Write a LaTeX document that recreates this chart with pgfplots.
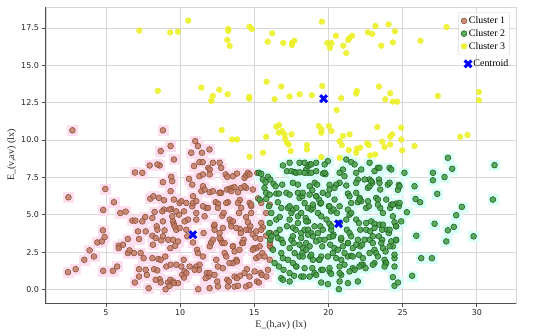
\documentclass[border=0pt]{standalone}
\usepackage{fontspec}
\setmainfont{Liberation Serif}
\newfontfamily\dejavu{DejaVu Sans}
\usepackage{pgfplots}
\usepackage{pgfplotstable}
\pgfplotsset{compat=1.18}

\definecolor{c1fill}{RGB}{192,118,92}
\definecolor{c1edge}{RGB}{140,85,62}
\definecolor{c2fill}{RGB}{70,155,70}
\definecolor{c2edge}{RGB}{35,100,35}
\definecolor{c3fill}{RGB}{236,240,40}
\definecolor{pinkbg}{RGB}{255,222,240}
\definecolor{cyanbg}{RGB}{218,255,248}
\definecolor{gridc}{RGB}{215,215,215}
\definecolor{spine}{RGB}{80,80,80}

\pgfplotstableread{
x y
2.74 10.65
2.47 6.17
2.44 1.16
2.96 1.36
3.54 1.99
3.90 2.62
4.19 2.21
4.42 3.15
4.73 3.22
4.80 3.96
4.91 3.51
4.82 5.32
4.96 6.73
4.82 1.25
5.47 1.25
5.76 1.54
5.54 5.84
5.97 5.12
6.33 5.21
5.86 2.93
5.86 2.77
6.15 3.00
6.48 3.38
6.48 2.44
6.59 2.62
6.89 2.44
6.78 4.61
6.98 4.61
6.96 7.83
6.95 0.47
7.23 0.87
7.23 1.36
7.16 3.89
7.23 3.38
7.54 2.10
7.65 4.85
7.76 0.98
7.88 0.09
7.95 8.30
7.99 6.08
8.17 3.00
8.13 3.60
8.20 6.24
8.28 5.19
8.42 4.23
8.24 1.36
8.53 2.04
8.73 3.29
8.62 0.69
8.69 0.47
8.46 1.28
8.69 9.26
8.62 8.30
8.84 10.65
8.84 7.18
8.91 5.97
8.91 5.35
8.84 4.56
8.95 3.96
8.84 3.56
9.00 2.21
9.07 1.54
9.02 0.02
9.18 0.47
9.29 0.25
9.34 0.65
9.20 3.33
9.34 2.77
9.36 9.60
9.40 7.54
9.40 5.39
9.52 4.56
9.58 4.38
9.58 8.70
9.67 2.93
9.74 4.00
9.92 5.01
9.74 1.66
9.96 5.79
10.08 5.91
10.26 5.23
10.24 1.99
10.08 1.54
10.30 1.21
10.15 0.98
10.42 1.10
10.26 0.80
10.42 4.00
10.48 3.56
10.53 4.68
10.60 7.40
10.75 9.15
10.82 7.02
10.82 5.57
10.87 6.24
10.87 3.15
10.94 8.26
11.02 9.93
11.09 5.12
11.09 4.68
11.14 2.66
11.20 2.44
11.20 9.60
11.09 1.54
11.27 1.32
11.22 0.02
11.30 8.52
11.52 8.52
11.30 7.58
11.43 6.58
11.54 2.21
11.58 3.78
11.65 4.90
11.76 5.46
11.80 1.10
11.92 0.87
11.72 0.76
11.90 8.14
12.00 8.03
11.98 9.37
12.00 6.51
12.00 2.89
12.10 3.15
12.30 4.23
12.32 4.00
12.40 5.84
12.55 5.75
12.44 1.99
12.55 1.54
12.50 0.54
12.55 0.20
12.66 6.47
12.77 6.47
12.66 3.78
12.73 3.33
12.84 3.11
12.84 4.94
12.93 5.12
13.00 2.44
13.11 2.21
13.07 7.70
13.18 7.54
13.16 6.69
13.34 6.73
13.50 6.80
13.67 6.85
13.22 5.84
13.34 4.68
13.45 4.45
13.56 4.56
13.18 0.65
13.29 0.54
13.56 2.89
13.67 2.55
13.56 1.77
13.78 1.99
13.83 1.88
13.67 0.87
13.83 0.76
13.67 0.20
13.90 0.25
14.05 0.92
13.83 7.76
13.90 6.51
14.02 5.99
13.97 5.12
14.12 5.46
14.02 4.05
14.09 3.78
14.18 3.11
14.28 3.33
14.34 7.47
14.45 7.63
14.57 7.81
14.45 4.85
14.57 4.50
14.50 1.36
14.64 4.00
14.73 4.23
14.68 5.79
14.79 5.57
14.79 5.12
14.90 3.69
15.08 3.47
14.97 2.77
15.13 2.77
15.13 2.10
15.31 2.21
15.18 0.54
15.31 0.47
15.42 1.10
15.51 0.98
15.25 6.10
15.47 4.45
15.58 4.16
15.40 3.38
15.54 2.44
15.69 2.21
15.80 5.12
15.80 3.60
16.04 1.99
16.08 3.78
16.15 2.77
16.04 2.93
11.47 9.15
12.21 8.48
12.66 8.48
12.77 8.14
11.54 7.70
11.99 7.70
13.56 7.58
14.68 7.70
15.20 7.80
11.54 6.91
11.65 6.69
12.21 6.58
12.66 6.47
13.45 6.58
14.12 6.80
14.45 6.80
14.90 6.69
14.34 6.91
10.42 5.79
10.87 5.79
11.09 5.91
11.54 5.57
11.88 5.46
12.55 5.46
13.11 5.79
13.90 5.79
14.79 5.68
15.47 5.79
16.04 5.68
9.29 5.35
9.74 5.23
9.63 4.23
9.97 4.12
10.30 4.56
12.32 4.34
12.88 4.12
13.45 4.23
13.79 4.12
14.45 4.00
15.13 3.89
15.47 4.00
9.52 3.33
9.86 3.22
12.21 3.33
12.66 3.45
13.00 3.11
13.56 2.89
14.00 2.66
14.24 3.11
14.90 2.66
15.36 2.89
16.04 3.11
10.64 1.54
10.98 1.32
11.31 1.66
11.99 1.10
12.32 0.98
12.88 1.43
13.33 1.77
14.34 1.10
14.68 0.87
15.02 1.21
11.99 0.09
13.22 0.20
14.45 0.20
14.68 0.31
15.81 0.87
15.92 1.32
9.52 0.54
9.86 0.43
8.47 8.37
7.45 7.81
9.47 7.25
9.36 6.58
9.58 6.02
8.57 6.13
8.80 5.23
9.47 4.90
8.13 4.79
7.45 4.56
8.47 4.00
8.35 3.45
7.68 3.89
7.34 2.44
8.13 2.10
8.69 1.99
9.36 1.66
7.68 1.32
8.35 0.65
9.58 0.43
}\clusterA

\pgfplotstableread{
x y
15.31 7.81
15.47 7.74
15.58 7.36
15.76 7.18
15.69 6.80
15.80 6.47
15.92 7.54
16.08 7.36
15.80 6.06
16.04 6.35
15.36 6.02
15.99 5.57
16.15 5.12
16.04 4.45
15.99 3.78
16.08 3.33
16.15 3.56
16.26 2.66
16.37 1.77
16.30 7.07
16.44 6.91
16.48 6.42
16.66 6.42
16.59 5.84
16.82 5.46
16.48 4.68
16.71 4.85
16.48 3.78
16.71 4.00
16.59 3.45
16.82 3.33
16.93 3.11
16.82 2.44
16.93 2.10
16.66 1.54
16.97 1.32
16.82 0.76
16.93 0.65
16.93 8.30
16.88 7.02
17.20 7.92
17.50 7.92
17.72 7.85
17.83 7.81
18.05 7.85
18.05 8.48
17.38 8.48
17.16 6.47
17.38 6.35
17.27 5.46
17.50 5.12
17.61 5.35
17.38 4.68
17.20 4.23
17.61 4.14
17.79 4.00
17.50 3.33
17.65 3.11
17.38 2.77
17.27 1.99
17.61 1.77
17.83 1.54
17.38 1.10
17.68 0.92
17.38 0.54
17.94 6.47
18.05 6.13
18.24 6.24
17.94 4.90
18.16 5.12
18.16 3.78
18.39 4.00
18.05 3.00
18.28 2.77
18.05 2.21
18.24 2.44
18.16 0.87
18.32 0.87
18.50 8.03
18.62 7.81
18.62 8.26
18.73 8.37
18.73 6.91
18.91 6.64
18.62 5.46
18.84 5.35
18.95 5.46
18.46 4.79
18.62 4.56
18.62 4.00
18.84 3.78
18.95 3.56
18.50 3.11
18.73 2.89
18.50 2.66
18.77 2.21
18.95 1.99
18.91 1.43
19.07 7.14
19.23 7.02
19.18 6.24
19.36 6.02
19.45 5.75
19.29 5.12
19.51 4.90
19.45 4.23
19.29 3.78
19.40 3.33
19.58 2.89
19.51 2.21
19.36 1.99
19.51 1.32
19.51 0.47
19.96 0.36
19.63 7.76
19.80 7.72
19.96 8.59
20.07 7.00
19.96 6.35
20.02 5.57
20.18 5.23
20.34 5.35
19.87 4.68
20.07 4.40
20.18 4.00
20.34 3.67
20.07 3.51
20.12 3.00
20.41 2.77
20.29 2.44
20.07 1.21
20.18 1.05
20.70 0.02
20.75 5.57
20.57 5.12
20.86 3.33
20.97 2.89
20.63 2.66
20.86 1.99
21.08 1.66
20.75 1.54
20.86 0.98
20.97 8.03
21.08 7.58
21.20 6.96
21.31 6.42
21.42 6.24
21.31 5.35
21.42 5.01
21.53 5.12
21.24 4.00
21.42 3.78
21.53 3.56
21.31 3.11
21.64 2.77
21.31 2.21
21.53 2.26
21.64 1.43
21.76 1.32
21.53 8.52
21.76 8.37
21.87 7.81
21.98 7.36
21.87 6.47
22.10 6.13
21.98 5.84
22.21 5.91
21.87 4.68
22.05 4.45
22.14 4.00
21.98 3.33
22.14 2.89
22.27 3.00
22.05 2.33
22.32 2.10
22.32 1.66
22.50 1.43
22.66 6.80
22.77 6.91
22.77 7.36
22.95 7.14
22.54 5.46
22.72 5.57
22.54 4.00
22.81 3.89
22.88 4.56
23.10 4.40
22.77 3.33
22.99 3.11
23.10 2.66
23.22 2.44
23.10 1.77
23.33 8.14
23.44 8.14
23.40 7.36
23.49 6.69
23.22 6.13
23.33 6.02
23.49 5.46
23.67 5.12
23.44 4.34
23.62 4.00
23.40 3.56
23.62 3.33
23.67 2.77
23.85 2.55
23.78 1.99
23.85 1.77
24.12 8.14
24.23 8.03
24.00 7.02
24.16 5.46
24.23 5.68
23.94 4.00
24.07 3.78
24.34 4.90
24.45 4.50
24.23 3.22
24.34 2.89
24.45 2.10
24.45 1.54
24.34 0.83
24.45 0.25
24.68 0.47
24.56 5.75
24.74 5.57
24.68 6.67
24.74 7.00
24.56 4.23
24.56 3.29
25.28 5.17
25.12 7.81
25.80 6.91
25.87 6.06
26.18 5.84
25.92 3.60
25.64 0.92
26.25 2.10
27.04 7.81
27.04 7.31
27.33 6.40
27.15 4.40
26.97 2.10
27.82 7.52
28.05 8.81
28.34 8.08
27.94 3.22
28.05 3.96
28.45 4.19
28.61 4.97
28.99 5.53
29.78 3.56
31.08 6.02
31.19 8.32
18.39 8.48
18.84 8.37
19.17 8.48
19.74 8.37
18.39 7.81
18.84 7.81
19.17 7.92
19.74 7.81
20.75 7.81
21.20 8.70
22.21 8.03
22.77 8.48
23.10 7.92
20.75 7.14
20.52 7.02
21.87 7.14
22.43 7.36
22.88 7.25
23.44 7.14
24.12 7.14
24.79 6.91
17.60 7.14
17.94 7.02
18.27 6.47
18.73 6.35
19.17 6.24
19.62 6.47
20.07 6.69
20.41 6.80
17.38 5.57
17.83 5.46
18.39 5.79
18.95 5.68
19.51 5.79
20.07 5.57
20.41 6.02
21.53 5.79
22.09 6.02
22.66 5.91
23.33 5.68
23.89 6.02
24.34 5.68
24.79 5.79
17.94 4.45
18.50 4.56
19.06 4.23
19.62 4.00
20.19 4.23
20.75 4.45
21.20 4.68
22.54 4.45
23.10 4.12
23.67 4.34
24.12 4.00
24.56 4.23
24.90 4.56
17.60 3.56
18.16 3.45
18.62 3.67
19.17 3.22
19.74 3.33
20.30 3.56
20.86 3.45
21.31 3.11
21.87 3.00
22.43 3.33
22.99 3.56
23.56 3.11
24.12 2.89
24.56 3.33
17.72 2.44
18.27 2.21
18.84 2.33
19.40 1.99
19.96 2.21
20.52 2.10
21.08 2.44
21.64 2.21
22.21 1.66
22.77 2.44
23.33 2.21
23.89 1.77
24.45 2.33
17.83 1.54
18.39 1.43
19.06 1.10
19.62 1.32
20.07 1.43
20.75 1.10
21.42 1.21
22.09 1.54
22.99 1.66
23.78 1.54
18.73 0.87
19.17 0.98
20.75 0.54
21.31 0.43
21.98 0.54
}\clusterB

\pgfplotstableread{
x y
7.25 17.32
9.33 17.20
9.85 17.25
10.55 17.99
13.25 17.43
13.25 17.30
13.18 16.70
13.34 16.30
14.68 17.58
14.84 17.43
16.21 17.14
15.90 16.58
16.95 16.50
17.54 16.50
17.54 16.35
17.70 16.64
19.56 17.92
19.92 16.49
20.20 16.49
20.10 16.17
20.50 16.98
21.00 16.31
21.20 15.82
21.40 16.82
21.60 16.98
21.33 16.69
22.66 17.20
22.95 17.09
23.17 17.63
23.56 16.31
24.05 17.74
24.48 17.27
24.34 16.53
26.20 16.64
27.96 17.56
8.50 13.29
11.43 13.51
12.64 13.36
12.20 12.95
12.10 12.62
13.20 13.06
14.66 12.89
14.66 12.77
15.83 13.90
16.82 13.58
16.37 12.73
17.38 12.91
18.05 13.06
18.88 13.00
19.58 13.62
20.55 12.01
20.86 12.80
21.87 13.11
21.91 13.29
23.40 13.58
23.83 12.73
24.16 13.13
24.34 12.57
24.63 12.57
27.37 12.95
30.14 13.22
30.14 12.66
12.80 10.67
13.50 10.04
13.83 10.04
14.68 8.88
15.58 9.15
15.80 10.22
16.48 10.89
16.66 11.00
16.66 10.49
16.88 10.60
17.04 10.38
17.08 10.09
17.20 9.82
17.31 9.71
17.51 10.38
17.45 9.26
18.55 9.66
18.55 9.37
19.35 10.94
19.51 10.49
19.53 10.71
19.51 8.86
20.03 10.94
20.20 10.60
20.75 8.81
20.75 9.93
20.90 9.66
20.97 10.27
21.42 10.38
21.37 9.33
21.87 9.15
21.91 9.42
22.14 9.49
22.61 9.78
22.72 9.66
22.81 8.97
23.15 9.04
23.29 10.87
23.62 9.89
23.78 9.53
24.16 9.71
24.30 10.38
24.16 10.22
24.90 10.83
24.90 10.04
24.97 9.31
25.80 9.60
28.88 10.22
29.37 10.34
}\clusterC

\pgfplotstableread{
x y
10.86 3.67
20.68 4.40
19.67 12.77
}\centroids

\begin{document}
\begin{tikzpicture}
\useasboundingbox (-46bp,-33bp) rectangle (504bp,303bp);
\pgfplotsset{common/.style={
  width=470bp, height=296bp, scale only axis,
  xmin=0.96, xmax=32.64, ymin=-0.9, ymax=18.9,
}}
\begin{axis}[
  common,
  xtick={5,10,...,30}, ytick={0,2.5,...,17.5},
  y tick label style={/pgf/number format/.cd, fixed, fixed zerofill, precision=1, /tikz/.cd},
  grid=major, major grid style={gridc, line width=0.7bp},
  axis line style={gridc, line width=0.8bp},
  tick align=outside, xtick pos=left, ytick pos=left, major tick length=3.5bp,
  tick style={spine, line width=0.8bp},
  tick label style={font=\dejavu\fontsize{8}{9}\selectfont, text=black!85},
  /pgf/number format/assume math mode=true,
  xlabel={E\_(h,av) (lx)}, ylabel={E\_(v,av) (lx)},
  label style={font=\fontsize{10}{12}\selectfont, text=black!85},
  xlabel style={at={(axis description cs:0.5,-0.075)}, anchor=center},
  ylabel style={at={(axis description cs:-0.073,0.5)}, anchor=center},
  legend style={at={(0.987,0.983)}, anchor=north east, draw=gridc, rounded corners=2bp,
    fill=white, fill opacity=0.8, text opacity=1, font=\fontsize{10}{12}\selectfont,
    inner sep=2.5bp, row sep=0.3bp},
  legend cell align=left,
  after end axis/.code={\draw[spine, line width=1bp] (rel axis cs:0,1) -- (rel axis cs:0,0) -- (rel axis cs:1,0);},
]
\addplot[only marks, mark=square*, mark size=5bp, color=pinkbg, forget plot] table {\clusterA};
\addplot[only marks, mark=square*, mark size=5bp, color=cyanbg, forget plot] table {\clusterB};
\addplot[only marks, mark=*, mark size=2.9bp, mark options={fill=c1fill, draw=c1edge, line width=0.6bp, fill opacity=0.8}] table {\clusterA};
\addlegendentry{Cluster 1}
\addplot[only marks, mark=*, mark size=2.9bp, mark options={fill=c2fill, draw=c2edge, line width=0.6bp, fill opacity=0.85}] table {\clusterB};
\addlegendentry{Cluster 2}
\addplot[only marks, mark=*, mark size=2.9bp, mark options={fill=c3fill, draw=c3fill, line width=0.4bp, fill opacity=0.9, draw opacity=0.9}] table {\clusterC};
\addlegendentry{Cluster 3}
\end{axis}
\begin{axis}[
  common, hide axis,
  legend style={at={(0.885,0.838)}, anchor=north west, draw=none, fill=none,
    font=\fontsize{10}{12}\selectfont, inner sep=2.5bp},
  legend cell align=left,
]
\addplot[only marks, mark=x, mark size=4.8bp, mark options={line width=3bp, draw=blue}] table {\centroids};
\addlegendentry{Centroid}
\end{axis}
\end{tikzpicture}
\end{document}
